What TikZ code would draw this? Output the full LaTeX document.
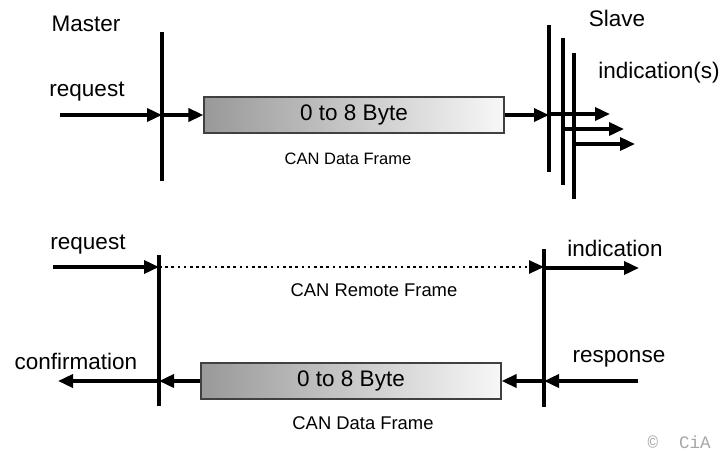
\documentclass[tikz,border=0pt]{standalone}
\usepackage{fontspec}
\setmainfont{Liberation Sans}
\usetikzlibrary{arrows.meta,positioning}

\begin{document}
\begin{tikzpicture}[x=1pt,y=-1pt,
  lbl/.style={font=\fontsize{22.5}{26}\selectfont, inner sep=0pt},
  frametxt/.style={font=\fontsize{16.5}{20}\selectfont, inner sep=0pt},
  bar/.style={line width=3.5pt},
  arr/.style={line width=3.5pt, -{Triangle[length=15pt,width=13pt]}},
  frame/.style={draw=black!75, line width=1.2pt, left color=black!40, right color=black!3,
    minimum width=300pt, minimum height=36pt, inner sep=0pt, font=\fontsize{22.5}{26}\selectfont}]
\useasboundingbox (0,0) rectangle (723,453);

% data frame, master to slaves
\node[lbl] (master) at (86,24) {Master};
\node[lbl] (slave) at (617,18) {Slave};
\node[lbl] (req1) at (87,92) {request};
\node[lbl] (ind1) at (659,73) {indication(s)};
\coordinate (mtop) at (162,32);
\coordinate (mbot) at (162,181);
\draw[bar] (mtop) -- (mbot);
\coordinate (rq1) at (60,115);
\coordinate (m1) at (162,115);
\node[frame] (data1) at (354,115) {0 to 8 Byte};
\node[frametxt] (txt1) at (348,159) {CAN Data Frame};
\draw[arr] (rq1) -- (m1);
\draw[arr] (m1) -- (data1.west);
\coordinate (s1) at (549,115);
\draw[arr] (data1.east) -- (s1);
\foreach \i/\x/\t/\b/\y/\e in {1/549/25/172/114/610, 2/563/38/185/129/624, 3/574/53/199/144/635} {
  \coordinate (st\i) at (\x,\t);
  \coordinate (sb\i) at (\x,\b);
  \coordinate (sa\i) at (\x,\y);
  \coordinate (se\i) at (\e,\y);
  \draw[bar] (st\i) -- (sb\i);
  \draw[arr] (sa\i) -- (se\i);
}

% remote frame and answer
\node[lbl] (req2) at (88,245) {request};
\node[lbl] (ind2) at (615,248) {indication};
\node[lbl] (resp) at (619,359) {response};
\node[lbl] (conf) at (76,361) {confirmation};
\coordinate (mtop2) at (159,255);
\coordinate (mbot2) at (159,406);
\coordinate (stop2) at (544,249);
\coordinate (sbot2) at (544,407);
\draw[bar] (mtop2) -- (mbot2);
\draw[bar] (stop2) -- (sbot2);
\coordinate (rq2) at (53,267);
\coordinate (m2) at (159,267);
\coordinate (s2) at (544,267);
\coordinate (in2) at (639,268);
\draw[arr] (rq2) -- (m2);
\draw[arr, line width=2.6pt, dash pattern=on 2.6pt off 3.6pt] (m2) -- (s2);
\node[frametxt, font=\fontsize{18.4}{22}\selectfont] (txt2) at (374,290) {CAN Remote Frame};
\draw[arr] (s2 |- in2) -- (in2);
\coordinate (rs) at (638,381);
\coordinate (s3) at (544,381);
\coordinate (m3) at (159,381);
\coordinate (cf) at (58,381);
\node[frame] (data2) at (351,381) {0 to 8 Byte};
\node[frametxt, font=\fontsize{18.4}{22}\selectfont] (txt3) at (363,423) {CAN Data Frame};
\draw[arr] (rs) -- (s3);
\draw[arr] (s3) -- (data2.east);
\draw[arr] (data2.west) -- (m3);
\draw[arr] (m3) -- (cf);
\node[inner sep=0pt, text=black!35, font=\fontspec{Liberation Mono}\fontsize{17.5}{20}\selectfont] (cia) at (679,442) {©\ \ CiA};
\end{tikzpicture}
\end{document}
